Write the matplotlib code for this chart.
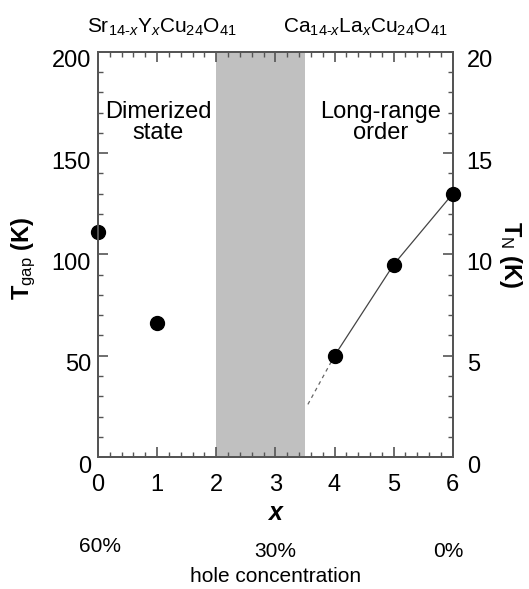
import matplotlib.pyplot as plt
from matplotlib.ticker import MultipleLocator
from matplotlib.transforms import ScaledTranslation

plt.rcParams['font.family'] = ['Liberation Sans', 'DejaVu Sans']
plt.rcParams['mathtext.fontset'] = 'custom'
plt.rcParams['mathtext.rm'] = 'Liberation Sans'
plt.rcParams['mathtext.it'] = 'Liberation Sans:italic'
plt.rcParams['mathtext.bf'] = 'Liberation Sans:bold'

# Sr14-xYxCu24O41 : spin gap temperature (left axis)
x_gap = [0, 1]
t_gap = [111, 66]
# Ca14-xLaxCu24O41 : Neel temperature (right axis)
x_n = [4, 5, 6]
t_n = [5.0, 9.5, 13.0]
# dashed extrapolation toward the gray region
x_ext = [3.55, 4]
t_ext = [2.6, 5.0]
band = (2, 3.5)
xticks = [0, 1, 2, 3, 4, 5, 6]
hole_x = [0, 3, 6]
hole_lab = ['60%', '30%', '0%']

fig = plt.figure(figsize=(5.29, 5.89), dpi=100)
ax = fig.add_axes([0.185, 0.224, 0.671, 0.688])
ax2 = ax.twinx()

spc = '#555555'
for a in (ax, ax2):
    for s in a.spines.values():
        s.set_color(spc)
        s.set_linewidth(1.4)

ax.axvspan(band[0], band[1], color='#c0c0c0', lw=0, zorder=0)

ax.plot(x_gap, t_gap, 'o', color='black', ms=10, clip_on=False, zorder=5)
ax2.plot(x_n, t_n, '-', color='#444444', lw=0.9)
ax2.plot(x_ext, t_ext, '--', color='#666666', lw=0.9, dashes=(3, 3))
ax2.plot(x_n, t_n, 'o', color='black', ms=10, clip_on=False, zorder=5)

ax.set_xlim(0, 6)
ax.set_ylim(0, 200)
ax2.set_ylim(0, 20)
ax.set_xticks(xticks)
ax.xaxis.set_minor_locator(MultipleLocator(0.2))
ax.yaxis.set_major_locator(MultipleLocator(50))
ax.yaxis.set_minor_locator(MultipleLocator(10))
ax2.yaxis.set_major_locator(MultipleLocator(5))
ax2.yaxis.set_minor_locator(MultipleLocator(1))

ax.tick_params(which='both', direction='in', top=True, right=False, color=spc)
ax.tick_params(which='major', length=7, width=1.2, labelsize=17)
ax.tick_params(which='minor', length=3.5, width=1)
ax.tick_params(axis='x', pad=12)
ax.tick_params(axis='y', pad=5)
ax2.tick_params(which='both', direction='in', color=spc)
ax2.tick_params(which='major', length=7, width=1.2, labelsize=17, pad=10)
ax2.tick_params(which='minor', length=3.5, width=1)

# y tick labels sit a little below their ticks in the original
shift = ScaledTranslation(0, -5 / 72, fig.dpi_scale_trans)
for lab in ax.get_yticklabels() + ax2.get_yticklabels():
    lab.set_transform(lab.get_transform() + shift)

ax.set_ylabel(r'T$_{\mathrm{gap}}$ (K)', fontsize=17, fontweight='bold')
ax.yaxis.set_label_coords(-0.17, 0.49)
ax2.set_ylabel(r'T$_{\mathrm{N}}$ (K)', fontsize=17, fontweight='bold', rotation=270)
ax2.yaxis.set_label_coords(1.2, 0.5)
ax.set_xlabel('x', fontsize=18, fontweight='bold', style='italic', labelpad=4)

ax.text(1.02, 165, 'Dimerized\nstate', ha='center', va='center', fontsize=17, linespacing=0.95)
ax.text(4.78, 165, 'Long-range\norder', ha='center', va='center', fontsize=17, linespacing=0.95)

ax.text(0.18, 1.06, r'Sr$_{14\text{-}x}$Y$_x$Cu$_{24}$O$_{41}$', transform=ax.transAxes,
        ha='center', va='center', fontsize=15)
ax.text(0.755, 1.06, r'Ca$_{14\text{-}x}$La$_x$Cu$_{24}$O$_{41}$', transform=ax.transAxes,
        ha='center', va='center', fontsize=15)

tr = ax.get_xaxis_transform()
for hx, hl in zip(hole_x, hole_lab):
    yy = -0.22 if hx == 0 else -0.233
    ax.text(hx + (0.03 if hx == 0 else -0.08 if hx == 6 else 0), yy, hl,
            transform=tr, ha='center', va='center', fontsize=15)
ax.text(3, -0.295, 'hole concentration', transform=tr, ha='center', va='center', fontsize=15)

fig.savefig('out.png', dpi=100)
